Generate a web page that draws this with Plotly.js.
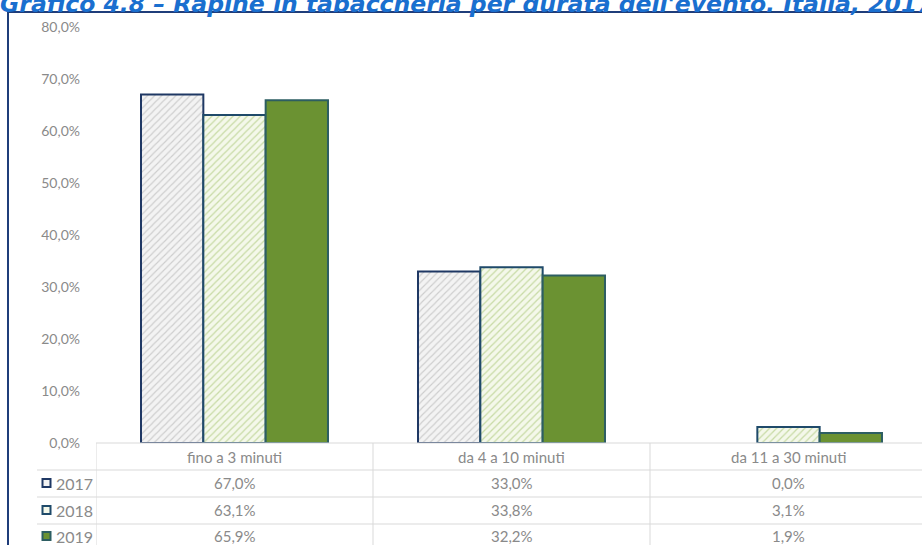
<!DOCTYPE html>
<html>
<head>
<meta charset="utf-8">
<script src="https://cdn.plot.ly/plotly-3.0.1.min.js"></script>
<style>
html,body{margin:0;padding:0;background:#fff;}
#chart{width:922px;height:545px;}
</style>
</head>
<body>
<div id="chart"></div>
<script>
// ---- data ----
const titleText = "Grafico 4.8 – Rapine in tabaccheria per durata dell'evento. Italia, 2017-2019";
const categories = ["fino a 3 minuti", "da 4 a 10 minuti", "da 11 a 30 minuti"];
const years = ["2017", "2018", "2019"];
const values2017 = [67.0, 33.0, 0.0];
const values2018 = [63.1, 33.8, 3.1];
const values2019 = [65.9, 32.2, 1.9];
const yTickVals = [0, 10, 20, 30, 40, 50, 60, 70, 80];

// ---- styles ----
const seriesValues = [values2017, values2018, values2019];
const seriesStyle = [
  {line: '#1f3864', pattern: {shape: '/', bgcolor: '#f3f3f3', fgcolor: '#cdcdcd', size: 5, solidity: 0.22}, color: '#f3f3f3'},
  {line: '#1f4a6a', pattern: {shape: '/', bgcolor: '#f4f8ea', fgcolor: '#c8dba6', size: 5, solidity: 0.25}, color: '#f4f8ea'},
  {line: '#2d5e62', pattern: null, color: '#6b9232'}
];

// plot area pixel geometry
const L = 96, R = 922, T = 27, B = 443;
const px = x => (x - L) / (R - L);
const py = y => (B - y) / (B - T);

const traces = seriesValues.map((vals, i) => {
  const m = {color: seriesStyle[i].color, line: {color: seriesStyle[i].line, width: vals.map(v => v > 0 ? 2 : 0)}};
  if (seriesStyle[i].pattern) m.pattern = seriesStyle[i].pattern;
  return {type: 'bar', name: years[i], x: categories, y: vals, marker: m, hoverinfo: 'skip'};
});

const fmt = v => v.toFixed(1).replace('.', ',') + '%';
const gridCol = '#d9d9d9';
const txtCol = '#8a8a8a';
const fam = 'Lato, sans-serif';
const shapes = [];
const annotations = [];

// frame
shapes.push({type: 'line', xref: 'paper', yref: 'paper', x0: px(8), x1: px(922), y0: py(12), y1: py(12), line: {color: '#1f3d7a', width: 2}});
shapes.push({type: 'line', xref: 'paper', yref: 'paper', x0: px(8), x1: px(8), y0: py(12), y1: py(545), line: {color: '#1f3d7a', width: 2}});

// table lines
shapes.push({type: 'line', xref: 'paper', yref: 'paper', x0: 0, x1: 1, y0: 0, y1: 0, line: {color: gridCol, width: 1}});
[470, 497, 524].forEach(yy => shapes.push({type: 'line', xref: 'paper', yref: 'paper', x0: px(37), x1: 1, y0: py(yy), y1: py(yy), line: {color: gridCol, width: 1}}));
[-0.5, 0.5, 1.5].forEach(xx => shapes.push({type: 'line', xref: 'x', yref: 'paper', x0: xx, x1: xx, y0: 0, y1: py(545), line: {color: gridCol, width: 1}}));

// header
categories.forEach((c, j) => annotations.push({xref: 'x', yref: 'paper', x: c, y: py(457), text: c, showarrow: false, xanchor: 'center', yanchor: 'middle', font: {family: fam, size: 15, color: txtCol}}));
// rows
const rowY = [483, 510, 536];
seriesValues.forEach((vals, i) => {
  annotations.push({xref: 'paper', yref: 'paper', x: px(53.5), y: py(rowY[i]), text: years[i], showarrow: false, xanchor: 'left', yanchor: 'middle', font: {family: fam, size: 16, color: txtCol}});
  shapes.push({type: 'rect', xref: 'paper', yref: 'paper', x0: px(42.5), x1: px(50.5), y0: py(rowY[i] - 4), y1: py(rowY[i] + 4), fillcolor: seriesStyle[i].pattern ? seriesStyle[i].pattern.bgcolor : seriesStyle[i].color, line: {color: seriesStyle[i].line, width: 2}});
  vals.forEach((v, j) => annotations.push({xref: 'x', yref: 'paper', x: categories[j], y: py(rowY[i]), text: fmt(v), showarrow: false, xanchor: 'center', yanchor: 'middle', font: {family: fam, size: 15, color: txtCol}}));
});

const layout = {
  width: 922, height: 545,
  margin: {l: L, r: 922 - R, t: T, b: 545 - B, pad: 0},
  paper_bgcolor: '#ffffff', plot_bgcolor: '#ffffff',
  separators: ',.',
  showlegend: false,
  barmode: 'group', bargap: 0.325, bargroupgap: 0,
  title: {text: '<b><i>' + titleText + '</i></b>', xref: 'container', yref: 'container', x: 0, xanchor: 'left', y: 1 - 4 / 545, yanchor: 'middle', font: {family: 'DejaVu Sans, Verdana, sans-serif', size: 23.5, color: '#1a6fcf'}},
  xaxis: {type: 'category', range: [-0.5, -0.5 + (R - L) / 277], showticklabels: false, showgrid: false, zeroline: false, showline: false, ticks: ''},
  yaxis: {range: [0, 80], tickvals: yTickVals, ticktext: yTickVals.map(fmt), showgrid: false, zeroline: false, showline: false, ticklabelstandoff: 15, tickfont: {family: fam, size: 14, color: txtCol}},
  shapes: shapes,
  annotations: annotations
};

Plotly.newPlot('chart', traces, layout, {displayModeBar: false, staticPlot: true});
</script>
</body>
</html>
